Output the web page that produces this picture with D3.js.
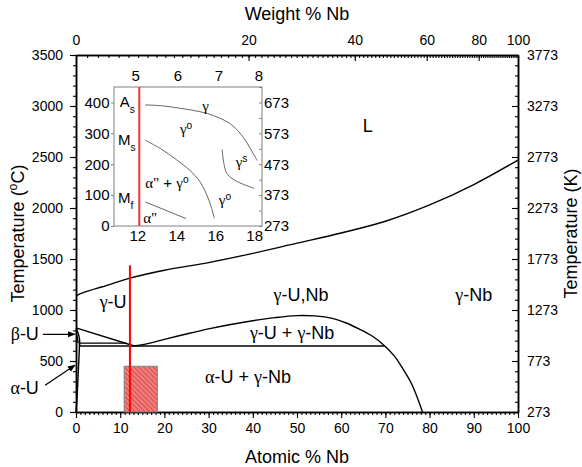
<!DOCTYPE html>
<html>
<head>
<meta charset="utf-8">
<script src="https://cdn.jsdelivr.net/npm/d3@7"></script>
<style>
  body { margin: 0; background: #fff; }
  text { font-family: "Liberation Sans", Arial, sans-serif; fill: #000; }
</style>
</head>
<body>
<div class="chart"></div>
<script>
// chart size
var svgWidth = 582;
var svgHeight = 467;
var margin = {top: 55, right: 64, bottom: 55, left: 76};
var chartWidth = svgWidth - margin.left - margin.right;
var chartHeight = svgHeight - margin.top - margin.bottom;
var serif = "'Liberation Serif', 'Times New Roman', serif";

// ---- phase boundaries: [atomic % Nb, temperature °C] ----
var liquidus = [[0, 1135], [1, 1160], [3, 1190], [6, 1228], [12, 1310], [20, 1390], [30, 1465],
  [40, 1555], [50, 1655], [60, 1755], [70, 1870], [80, 2030], [90, 2230], [100, 2470]];
var gammaSolvus = [[0, 825], [13.2, 647]];
var miscibilityGap = [[13.2, 647], [16, 668], [20, 712], [25, 765], [30, 815], [35, 858], [40, 895],
  [45, 925], [50, 945], [54, 942], [58, 918], [61, 875], [64, 815], [67, 745], [69.8, 650],
  [72, 550], [74, 420], [76, 270], [78.4, 0]];
var monotectoid = [[0.8, 647], [69.8, 647]];
var eutectoid = [[0.7, 675], [11.4, 675]];
var alphaSolvus = [[0, 0], [0.25, 150], [0.5, 380], [0.7, 560], [0.8, 675]];
var betaRight = [[0, 825], [0.5, 770], [0.8, 715], [0.8, 647]];
var betaLeft = [[0, 776], [0.3, 730], [0.5, 675]];

// studied alloy and composition window
var alloyNb = 12.2;
var alloyTop = 1438;
var windowNb = [10.9, 18.4];
var windowTop = 448;

// ---- tick values ----
var atMajor = d3.range(0, 101, 10);
var atMinor = d3.range(0, 101, 1);
var wtMajor = [0, 20, 40, 60, 80, 100];
var wtMinor = d3.range(0, 101, 1);
var cMajor = d3.range(0, 3501, 500);
var cMinor = d3.range(0, 3501, 100);
var kMajor = d3.range(273, 3774, 500);
var kMinor = d3.range(273, 3774, 100);

// ---- inset (martensite transformation temperatures) ----
var insetAt = [12, 14, 16, 18];
var insetWt = [5, 6, 7, 8];
var insetC = [0, 100, 200, 300, 400];
var insetK = [273, 373, 473, 573, 673];
var asCurve = [[12.4, 392], [13.3, 389], [14.1, 382], [14.9, 374], [15.6, 364], [16.2, 350],
  [16.7, 334], [17.2, 306], [17.6, 272], [17.9, 240], [18.15, 212]];
var msCurve = [[12.4, 278], [13.2, 250], [14.0, 215], [14.7, 180], [15.2, 145], [15.5, 110],
  [15.75, 70], [15.95, 25]];
var mfCurve = [[12.4, 78], [14.5, 24]];
var gsCurve = [[16.35, 248], [16.45, 200], [16.6, 170], [16.9, 152], [17.4, 136], [18.0, 122]];

var MNb = 92.906, MU = 238.029;
function wtToAt(w) {
  if (w >= 100) return 100;
  var n = w / MNb, u = (100 - w) / MU;
  return 100 * n / (n + u);
}
var fmt = d3.format("d");

var svg = d3.select(".chart").append("svg")
  .attr("width", svgWidth)
  .attr("height", svgHeight);

var defs = svg.append("defs");
var hatch = defs.append("pattern")
  .attr("id", "hatch")
  .attr("patternUnits", "userSpaceOnUse")
  .attr("width", 3.4).attr("height", 3.4)
  .attr("patternTransform", "rotate(-45)");
hatch.append("rect").attr("width", 3.4).attr("height", 3.4).attr("fill", "#f47c7c");
hatch.append("line").attr("x1", 0.5).attr("y1", 0).attr("x2", 0.5).attr("y2", 3.4)
  .attr("stroke", "#d04848").attr("stroke-width", 0.9);

defs.append("marker")
  .attr("id", "arrow")
  .attr("viewBox", "0 0 10 10")
  .attr("refX", 9).attr("refY", 5)
  .attr("markerWidth", 6.5).attr("markerHeight", 6.5)
  .attr("orient", "auto")
  .append("path").attr("d", "M0,1 L10,5 L0,9 Z").attr("fill", "#000");

var chartGroup = svg.append("g")
  .attr("transform", `translate(${margin.left}, ${margin.top})`);

var x = d3.scaleLinear().domain([0, 100]).range([0, chartWidth]);
var y = d3.scaleLinear().domain([0, 3500]).range([chartHeight, 0]);
var yK = d3.scaleLinear().domain([273, 3773]).range([chartHeight, 0]);

function styleAxis(g, size) {
  g.attr("font-family", "'Liberation Sans', Arial, sans-serif").attr("font-size", size);
  g.select(".domain").attr("stroke-width", 1.5);
  g.selectAll(".tick line").attr("stroke-width", 1.1);
}
function minorAxis(axis, vals, len) {
  return axis.tickValues(vals).tickFormat("").tickSizeInner(len).tickSizeOuter(0);
}

// minor ticks first, majors on top
chartGroup.append("g").attr("transform", `translate(0, ${chartHeight})`)
  .call(minorAxis(d3.axisBottom(x), atMinor, 3)).call(styleAxis, 14);
chartGroup.append("g")
  .call(minorAxis(d3.axisLeft(y), cMinor, 3)).call(styleAxis, 14);
chartGroup.append("g").attr("transform", `translate(${chartWidth}, 0)`)
  .call(minorAxis(d3.axisRight(yK), kMinor, -3)).call(styleAxis, 14);
chartGroup.append("g")
  .call(minorAxis(d3.axisTop(x), wtMinor.map(wtToAt), -3)).call(styleAxis, 14);

chartGroup.append("g").attr("transform", `translate(0, ${chartHeight})`)
  .call(d3.axisBottom(x).tickValues(atMajor).tickFormat(fmt).tickSizeInner(6).tickSizeOuter(0).tickPadding(5.5))
  .call(styleAxis, 14);
chartGroup.append("g")
  .call(d3.axisLeft(y).tickValues(cMajor).tickFormat(fmt).tickSizeInner(6).tickSizeOuter(0).tickPadding(7))
  .call(styleAxis, 14);
chartGroup.append("g").attr("transform", `translate(${chartWidth}, 0)`)
  .call(d3.axisRight(yK).tickValues(kMajor).tickFormat(fmt).tickSizeInner(-6).tickSizeOuter(0).tickPadding(9))
  .call(styleAxis, 14);
chartGroup.append("g")
  .call(d3.axisTop(x).tickValues(wtMajor.map(wtToAt)).tickSizeInner(-6).tickSizeOuter(0)
    .tickPadding(10).tickFormat(function(d, i) { return wtMajor[i]; }))
  .call(styleAxis, 14);

// composition window (hatched)
chartGroup.append("rect")
  .attr("x", x(windowNb[0]))
  .attr("y", y(windowTop))
  .attr("width", x(windowNb[1]) - x(windowNb[0]))
  .attr("height", y(0) - y(windowTop))
  .attr("fill", "url(#hatch)")
  .attr("stroke", "#7f7f7f")
  .attr("stroke-width", 1);

// phase boundaries
var line = d3.line()
  .x(d => x(d[0]))
  .y(d => y(d[1]))
  .curve(d3.curveCatmullRom);

[liquidus, gammaSolvus, miscibilityGap, monotectoid, eutectoid, alphaSolvus, betaRight, betaLeft]
  .forEach(function(seg) {
    chartGroup.append("path")
      .attr("d", line(seg))
      .attr("fill", "none")
      .attr("stroke", "#000")
      .attr("stroke-width", 1.4);
  });

// alloy composition line
chartGroup.append("line")
  .attr("x1", x(alloyNb)).attr("x2", x(alloyNb))
  .attr("y1", y(0)).attr("y2", y(alloyTop))
  .attr("stroke", "#ff0000")
  .attr("stroke-width", 2);

// arrows to the small U-rich fields
var arrows = [
  {from: [-7.5, 762], to: [-0.3, 762]},
  {from: [-7.0, 262], to: [-0.25, 458]}
];
chartGroup.selectAll(".arrow").data(arrows).enter().append("line")
  .attr("class", "arrow")
  .attr("x1", d => x(d.from[0])).attr("y1", d => y(d.from[1]))
  .attr("x2", d => x(d.to[0])).attr("y2", d => y(d.to[1]))
  .attr("stroke", "#000").attr("stroke-width", 1.2)
  .attr("marker-end", "url(#arrow)");

// rich text: parts are [text, kind] with kind g (greek), sup, sub
function rich(g, px, py, parts, size, anchor) {
  var t = g.append("text")
    .attr("x", px).attr("y", py)
    .attr("font-size", size)
    .attr("text-anchor", anchor || "start");
  parts.forEach(function(p) {
    var s = t.append("tspan").text(p[0]);
    if (p[1] == "g") s.attr("font-family", serif);
    if (p[1] == "sup") s.attr("baseline-shift", "super").attr("font-size", size * 0.68);
    if (p[1] == "sub") s.attr("baseline-shift", "sub").attr("font-size", size * 0.68);
  });
  return t;
}

var phaseLabels = [
  {at: 66, c: 2750, anchor: "middle", parts: [["L"]]},
  {at: 8.4, c: 1017, anchor: "middle", parts: [["γ", "g"], ["-U"]]},
  {at: 50.9, c: 1088, anchor: "middle", parts: [["γ", "g"], ["-U,Nb"]]},
  {at: 90, c: 1088, anchor: "middle", parts: [["γ", "g"], ["-Nb"]]},
  {at: 48.9, c: 712, anchor: "middle", parts: [["γ", "g"], ["-U + "], ["γ", "g"], ["-Nb"]]},
  {at: 38.9, c: 284, anchor: "middle", parts: [["α", "g"], ["-U + "], ["γ", "g"], ["-Nb"]]},
  {at: -8.4, c: 703, anchor: "end", parts: [["β", "g"], ["-U"]]},
  {at: -8.4, c: 180, anchor: "end", parts: [["α", "g"], ["-U"]]}
];
phaseLabels.forEach(function(l) {
  rich(chartGroup, x(l.at), y(l.c), l.parts, 18, l.anchor);
});

// axis titles
svg.append("text")
  .attr("x", margin.left + chartWidth / 2).attr("y", 19.5)
  .attr("text-anchor", "middle").attr("font-size", 18)
  .text("Weight % Nb");
svg.append("text")
  .attr("x", margin.left + chartWidth / 2).attr("y", 463)
  .attr("text-anchor", "middle").attr("font-size", 18)
  .text("Atomic % Nb");
rich(svg, 0, 0, [["Temperature ("], ["o", "sup"], ["C)"]], 18, "middle")
  .attr("transform", `translate(24, ${margin.top + chartHeight / 2}) rotate(-90)`);
rich(svg, 0, 0, [["Temperature (K)"]], 18, "middle")
  .attr("transform", `translate(577, ${margin.top + chartHeight / 2}) rotate(-90)`);

// ---- inset ----
var box = {x0: 114, x1: 262, y0: 87, y1: 226};
var ix = d3.scaleLinear().domain([10.8, 18.4]).range([box.x0, box.x1]);
var iy = d3.scaleLinear().domain([0, 450]).range([box.y1, box.y0]);
var iyK = d3.scaleLinear().domain([273, 723]).range([box.y1, box.y0]);
var inset = svg.append("g");

inset.append("rect")
  .attr("x", box.x0).attr("y", box.y0)
  .attr("width", box.x1 - box.x0).attr("height", box.y1 - box.y0)
  .attr("fill", "#fff").attr("stroke", "#808080").attr("stroke-width", 1);

function styleInset(g) {
  g.attr("font-family", "'Liberation Sans', Arial, sans-serif").attr("font-size", 15);
  g.select(".domain").remove();
  g.selectAll(".tick line").attr("stroke", "#808080");
}
inset.append("g").attr("transform", `translate(0, ${box.y1})`)
  .call(d3.axisBottom(ix).tickValues(insetAt).tickSize(0).tickPadding(4)).call(styleInset);
inset.append("g").attr("transform", `translate(0, ${box.y0})`)
  .call(d3.axisTop(ix).tickValues(insetWt.map(wtToAt)).tickSize(0).tickPadding(6.5)
    .tickFormat(function(d, i) { return insetWt[i]; })).call(styleInset);
inset.append("g").attr("transform", `translate(${box.x0}, 0)`)
  .call(d3.axisLeft(iy).tickValues(insetC).tickSizeInner(3).tickSizeOuter(0).tickPadding(1.5))
  .call(styleInset);
inset.append("g").attr("transform", `translate(${box.x1}, 0)`)
  .call(d3.axisRight(iyK).tickValues(d3.range(273, 724, 50)).tickSizeInner(-3).tickSizeOuter(0)
    .tickPadding(2).tickFormat(d => insetK.indexOf(d) >= 0 ? d : ""))
  .call(styleInset);

var iline = d3.line()
  .x(d => ix(d[0]))
  .y(d => iy(d[1]))
  .curve(d3.curveCatmullRom);
[asCurve, msCurve, mfCurve, gsCurve].forEach(function(seg) {
  inset.append("path")
    .attr("d", iline(seg))
    .attr("fill", "none")
    .attr("stroke", "#666")
    .attr("stroke-width", 1);
});

inset.append("line")
  .attr("x1", ix(alloyNb - 0.1)).attr("x2", ix(alloyNb - 0.1))
  .attr("y1", box.y0).attr("y2", box.y1)
  .attr("stroke", "#ee3333")
  .attr("stroke-width", 2);

var insetLabels = [
  {at: 11.1, c: 386, anchor: "start", parts: [["A"], ["s", "sub"]]},
  {at: 11.0, c: 262, anchor: "start", parts: [["M"], ["s", "sub"]]},
  {at: 11.0, c: 74, anchor: "start", parts: [["M"], ["f", "sub"]]},
  {at: 15.5, c: 372, anchor: "middle", parts: [["γ", "g"]]},
  {at: 14.5, c: 298, anchor: "middle", parts: [["γ", "g"], ["o", "sup"]]},
  {at: 17.35, c: 191, anchor: "middle", parts: [["γ", "g"], ["s", "sup"]]},
  {at: 12.4, c: 123, anchor: "start", parts: [["α\"", "g"], [" + "], ["γ", "g"], ["o", "sup"]]},
  {at: 16.5, c: 67, anchor: "middle", parts: [["γ", "g"], ["o", "sup"]]},
  {at: 12.3, c: 9, anchor: "start", parts: [["α\"", "g"]]}
];
insetLabels.forEach(function(l) {
  rich(inset, ix(l.at), iy(l.c), l.parts, 15, l.anchor);
});
</script>
</body>
</html>
